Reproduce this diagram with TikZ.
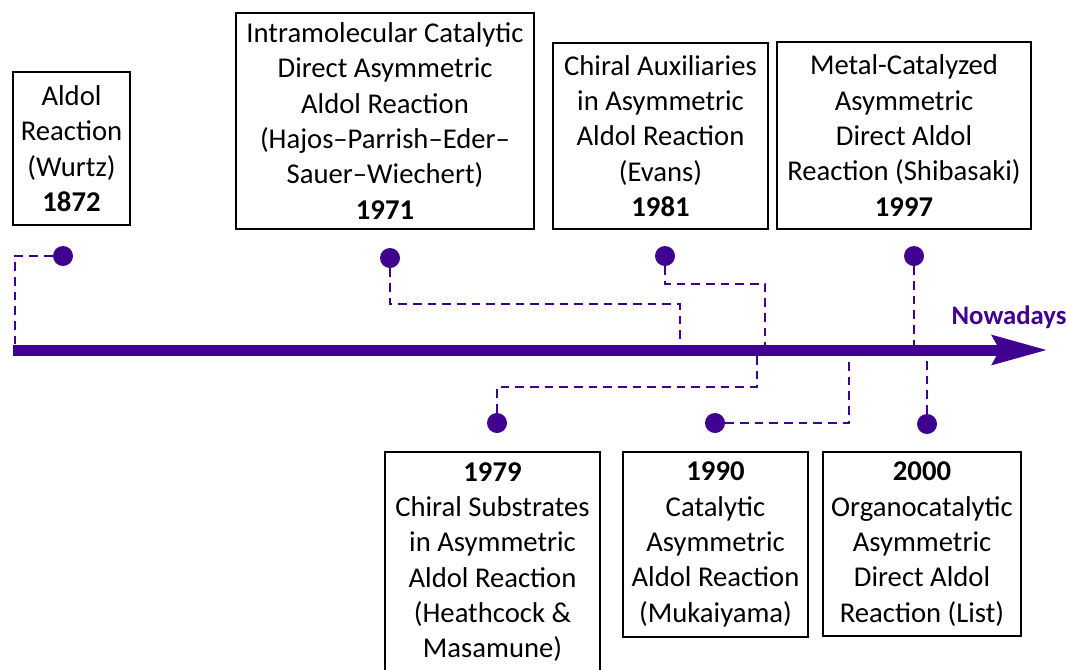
\documentclass[tikz,border=0pt]{standalone}
\usepackage{fontspec}
\setmainfont{Carlito}
\usetikzlibrary{arrows.meta, positioning}
\definecolor{tlpurple}{RGB}{64,0,144}
\tikzset{
    event/.style={rectangle, draw, line width=1.5pt, align=center, inner sep=0pt, font=\fontsize{21.5}{26.5}\selectfont},
    dot/.style={circle, fill=tlpurple, minimum size=15pt, inner sep=0pt},
    conn/.style={tlpurple, line width=2.1pt, dash pattern=on 6.5pt off 4.5pt},
    axis/.style={tlpurple, line width=8.25pt, -{Stealth[length=41pt, width=21pt, inset=5pt]}},
    label/.style={tlpurple, font=\fontsize{20}{22}\selectfont\bfseries}
}
\begin{document}
\begin{tikzpicture}[x=0.75pt, y=-0.75pt]
    \useasboundingbox (0,0) rectangle (1067,669);

    % Events above the axis
    \node[event, minimum width=87.75pt, minimum height=114.75pt] (e1872) at (71.5,148.5) {Aldol\\Reaction\\(Wurtz)\\\textbf{1872}};
    \node[event, minimum width=223.5pt, minimum height=162pt] (e1971) at (385,121) {Intramolecular Catalytic\\Direct Asymmetric\\Aldol Reaction\\(Hajos--Parrish--Eder--\\Sauer--Wiechert)\\\textbf{1971}};
    \node[event, minimum width=161.25pt, minimum height=139.5pt] (e1981) at (660.5,136) {Chiral Auxiliaries\\in Asymmetric\\Aldol Reaction\\(Evans)\\\textbf{1981}};
    \node[event, minimum width=190.5pt, minimum height=140.25pt] (e1997) at (904,135.5) {Metal-Catalyzed\\Asymmetric\\Direct Aldol\\Reaction (Shibasaki)\\\textbf{1997}};

    % Events below the axis
    \node[event, minimum width=161.25pt, minimum height=165pt] (e1979) at (492.5,562) {\textbf{1979}\\Chiral Substrates\\in Asymmetric\\Aldol Reaction\\(Heathcock \&\\Masamune)};
    \node[event, minimum width=138.75pt, minimum height=138.75pt] (e1990) at (715.5,544.5) {\textbf{1990}\\Catalytic\\Asymmetric\\Aldol Reaction\\(Mukaiyama)};
    \node[event, minimum width=148.5pt, minimum height=138pt] (e2000) at (922,544) {\textbf{2000}\\Organocatalytic\\Asymmetric\\Direct Aldol\\Reaction (List)};

    % Dots
    \node[dot] (d1872) at (63,256) {};
    \node[dot] (d1971) at (390,258) {};
    \node[dot] (d1981) at (665,256) {};
    \node[dot] (d1997) at (914,256) {};
    \node[dot] (d1979) at (497,423) {};
    \node[dot] (d1990) at (715,423) {};
    \node[dot] (d2000) at (927,424) {};

    % Points on the axis
    \coordinate (axisL) at (13,350);
    \coordinate (axisR) at (1048,350);
    \coordinate (a1872) at (15,350);
    \coordinate (a1971) at (680,342);
    \coordinate (a1981) at (765,350);
    \coordinate (a1997) at (914,350);
    \coordinate (a1979) at (757,350);
    \coordinate (a1990) at (849,350);
    \coordinate (a2000) at (927,350);

    % Dashed connectors
    \draw[conn] (d1872) -| (a1872);
    \draw[conn] (d1971) -- ++(0,46) -| (a1971);
    \draw[conn] (d1981) -- ++(0,28) -| (a1981);
    \draw[conn] (d1997) -- (a1997);
    \draw[conn] (d1979) -- ++(0,-36) -| (a1979);
    \draw[conn] (d1990) -| (a1990);
    \draw[conn] (d2000) -- (a2000);

    % Axis
    \draw[axis] (axisL) -- (axisR);
    \node[label] (now) at (1009,317) {Nowadays};
\end{tikzpicture}
\end{document}
